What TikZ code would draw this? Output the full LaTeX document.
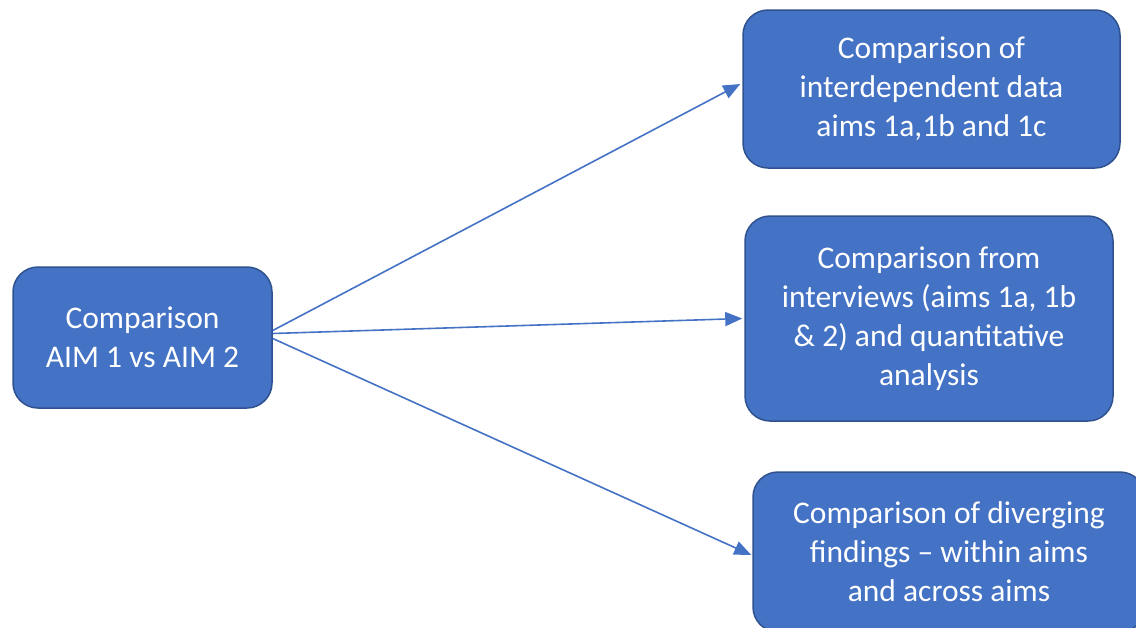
\documentclass[tikz,border=0pt]{standalone}
\usepackage{fontspec}
\setmainfont{Carlito}
\usetikzlibrary{arrows.meta}
\definecolor{boxblue}{HTML}{4472C4}
\definecolor{boxedge}{HTML}{2F528F}
\begin{document}
\begin{tikzpicture}[x=1pt,y=-1pt,
        box/.style={draw=boxedge,line width=1.5pt,fill=boxblue,rounded corners=25pt,
            text=white,align=center,inner sep=0pt,
            font=\fontsize{31.5}{39}\selectfont},
        link/.style={draw=boxblue,line width=1.6pt,-{Triangle[length=17pt,width=14pt]}}]
    \useasboundingbox (0,0) rectangle (1136,627);
    \clip (0,0) rectangle (1136,627);

    \node [box,minimum width=259pt,minimum height=141pt] (aim) at (142.5,337.5)
        {Comparison\\AIM 1 vs AIM 2};
    \node [box,minimum width=377pt,minimum height=158pt] (top) at (931.5,89)
        {Comparison of\\interdependent data\\aims 1a,1b and 1c};
    \node [box,minimum width=368pt,minimum height=205pt] (mid) at (929,318.5)
        {Comparison from\\interviews (aims 1a, 1b\\\& 2) and quantitative\\analysis};
    \node [box,minimum width=392pt,minimum height=160pt] (bot) at (949,552)
        {Comparison of diverging\\findings -- within aims\\and across aims};

    \draw [link] ([yshift=7pt]aim.east) -- ([xshift=-2pt,yshift=5pt]top.west);
    \draw [link] ([yshift=4pt]aim.east) -- ([xshift=-2pt]mid.west);
    \draw [link] ([yshift=-1pt]aim.east) -- ([xshift=-1pt,yshift=-3pt]bot.west);
\end{tikzpicture}
\end{document}
